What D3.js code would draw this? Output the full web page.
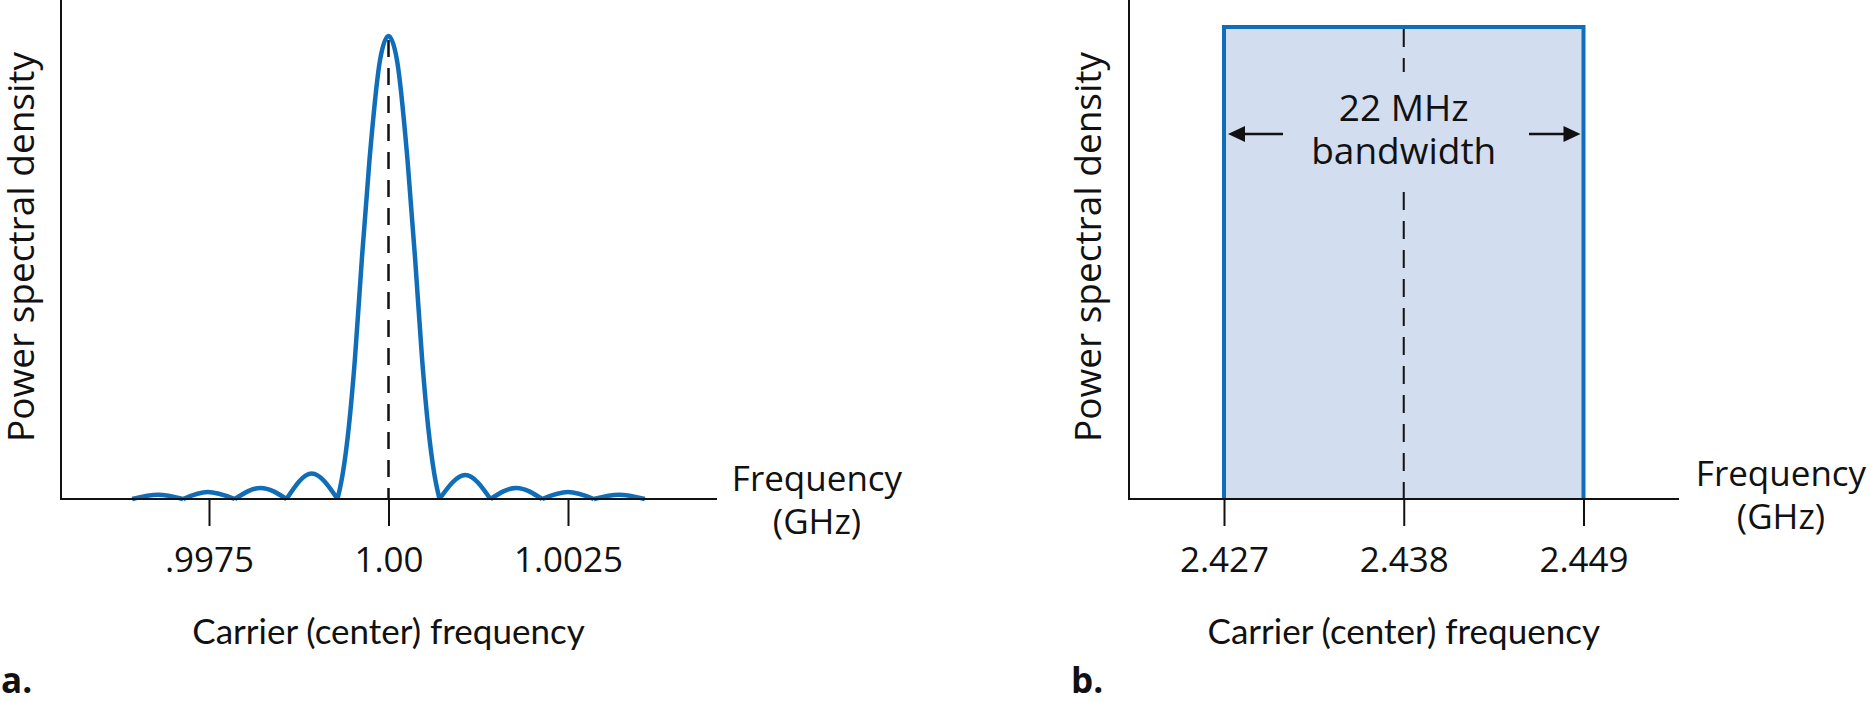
<!DOCTYPE html>
<html>
<head>
<meta charset="utf-8">
<script src="https://cdn.jsdelivr.net/npm/d3@7"></script>
<style>
  body { margin: 0; background: #fff; }
  svg text { font-family: "Open Sans", "Noto Sans", sans-serif; fill: #111; }
</style>
</head>
<body>
<script>
// Panel a: power spectral density around the carrier (relative, peak = 1)
const psdFreq = [0.99643, 0.99679, 0.99714, 0.99748, 0.99786, 0.99822, 0.99858, 0.99893,
  0.99929, 0.999364, 0.999447, 0.999531, 0.999628, 0.999735, 0.999882, 1.0,
  1.000118, 1.000265, 1.000372, 1.000469, 1.000553, 1.000636, 1.00071,
  1.00107, 1.00142, 1.00178, 1.00214, 1.0025, 1.00286, 1.00321, 1.00357];
const psdValue = [0, 0.009, 0, 0.015, 0, 0.024, 0, 0.055,
  0, 0.056, 0.155, 0.30, 0.516, 0.732, 0.948, 1,
  0.948, 0.732, 0.516, 0.30, 0.155, 0.056, 0,
  0.052, 0, 0.024, 0, 0.015, 0, 0.009, 0];
const ticksA = [0.9975, 1.0, 1.0025];
const tickLabelsA = [".9975", "1.00", "1.0025"];
const carrierA = 1.0;

// Panel b: flat 22 MHz channel
const bandEdges = [2.427, 2.449];
const bandLevel = 1;
const ticksB = [2.427, 2.438, 2.449];
const tickLabelsB = ["2.427", "2.438", "2.449"];
const carrierB = 2.438;
const bandText = ["22 MHz", "bandwidth"];

const xTitle = "Carrier (center) frequency";
const yTitle = "Power spectral density";
const freqUnit = ["Frequency", "(GHz)"];

const width = 1869, height = 702;
const axisY = 499, tickLen = 27;
const blue = "#106eb9", fillBlue = "#d2ddf0";

const svg = d3.select("body").append("svg")
  .attr("width", width)
  .attr("height", height);

// scales
const xA = d3.scaleLinear().domain([0.9975, 1.0025]).range([209, 568]);
const yA = d3.scaleLinear().domain([0, 1]).range([axisY, 36]);
const xB = d3.scaleLinear().domain([2.427, 2.449]).range([1224, 1583.5]);
const yB = d3.scaleLinear().domain([0, 1]).range([axisY, 27]);

// two-line label as one text element
function twoLines(sel, lines, x, y, gap) {
  const t = sel.append("text")
    .attr("x", x).attr("y", y)
    .attr("text-anchor", "middle");
  lines.forEach((s, i) => {
    t.append("tspan").attr("x", x).attr("y", y + i * gap).text(s);
  });
  return t;
}

// ---------- panel a ----------
const gA = svg.append("g");

// dashed carrier line
gA.append("line")
  .attr("x1", xA(carrierA)).attr("x2", xA(carrierA))
  .attr("y1", yA(1) + 4).attr("y2", axisY)
  .attr("stroke", "#111").attr("stroke-width", 2.5)
  .attr("stroke-dasharray", "17,11");

// split the spectrum into lobes at the nulls so the nulls stay pointed
const pts = psdFreq.map((f, i) => [f, psdValue[i]]);
const lobes = [];
let cur = [pts[0]];
for (let i = 1; i < pts.length; i++) {
  cur.push(pts[i]);
  if (pts[i][1] === 0) { lobes.push(cur); cur = [pts[i]]; }
}
const lobeLine = d3.line()
  .x(d => xA(d[0]))
  .y(d => yA(d[1]))
  .curve(d3.curveMonotoneX);

gA.append("path")
  .attr("d", lobes.map(l => lobeLine(l)).join(""))
  .attr("fill", "none")
  .attr("stroke", blue)
  .attr("stroke-width", 4.5)
  .attr("stroke-linejoin", "round");

// axes
gA.append("line").attr("x1", 61).attr("x2", 61).attr("y1", 0).attr("y2", axisY + 1)
  .attr("stroke", "#111").attr("stroke-width", 2);
gA.append("line").attr("x1", 60).attr("x2", 717).attr("y1", axisY).attr("y2", axisY)
  .attr("stroke", "#111").attr("stroke-width", 2);

const axA = gA.append("g")
  .attr("transform", `translate(0,${axisY})`)
  .call(d3.axisBottom(xA).tickValues(ticksA)
    .tickFormat((d, i) => tickLabelsA[i]).tickSize(tickLen).tickSizeOuter(0));

// ---------- panel b ----------
const gB = svg.append("g");

const bandPts = [[bandEdges[0], 0], [bandEdges[0], bandLevel], [bandEdges[1], bandLevel], [bandEdges[1], 0]];
const bandLine = d3.line().x(d => xB(d[0])).y(d => yB(d[1]));

gB.append("path")
  .attr("d", bandLine(bandPts) + "Z")
  .attr("fill", fillBlue)
  .attr("stroke", "none");

// dashed carrier line, broken around the label
[[yB(bandLevel) + 2, 72], [192, axisY]].forEach(seg => {
  gB.append("line")
    .attr("x1", xB(carrierB)).attr("x2", xB(carrierB))
    .attr("y1", seg[0]).attr("y2", seg[1])
    .attr("stroke", "#111").attr("stroke-width", 2)
    .attr("stroke-dasharray", "18,11");
});

gB.append("path")
  .attr("d", bandLine(bandPts))
  .attr("fill", "none")
  .attr("stroke", blue)
  .attr("stroke-width", 4);

twoLines(gB, bandText, xB(carrierB), 121, 43)
  .style("font-size", "37px");

// width arrows
const arrowY = 134;
function arrow(xTail, xTip) {
  const dir = Math.sign(xTip - xTail);
  gB.append("line")
    .attr("x1", xTail).attr("x2", xTip - dir * 10)
    .attr("y1", arrowY).attr("y2", arrowY)
    .attr("stroke", "#111").attr("stroke-width", 2.5);
  gB.append("path")
    .attr("d", `M${xTip},${arrowY}L${xTip - dir * 17},${arrowY - 8}L${xTip - dir * 17},${arrowY + 8}Z`)
    .attr("fill", "#111");
}
arrow(1283, xB(bandEdges[0]) + 4);
arrow(1529, xB(bandEdges[1]) - 3);

gB.append("line").attr("x1", 1129).attr("x2", 1129).attr("y1", 0).attr("y2", axisY + 1)
  .attr("stroke", "#111").attr("stroke-width", 2);
gB.append("line").attr("x1", 1128).attr("x2", 1679).attr("y1", axisY).attr("y2", axisY)
  .attr("stroke", "#111").attr("stroke-width", 2);

const axB = gB.append("g")
  .attr("transform", `translate(0,${axisY})`)
  .call(d3.axisBottom(xB).tickValues(ticksB)
    .tickFormat((d, i) => tickLabelsB[i]).tickSize(tickLen).tickSizeOuter(0));

// shared axis styling
[axA, axB].forEach(ax => {
  ax.select(".domain").remove();
  ax.selectAll(".tick line").attr("stroke", "#111").attr("stroke-width", 2);
  ax.selectAll(".tick text")
    .attr("y", 73).attr("dy", null)
    .attr("fill", "#111")
    .style("font-family", '"Open Sans", "Noto Sans", sans-serif')
    .style("font-size", "35px");
});

// ---------- titles ----------
const titles = [
  { cx: xA(carrierA), ylab: 34, fx: 817, fy: 491, tag: "a.", tx: 1 },
  { cx: xB(carrierB), ylab: 1101, fx: 1781, fy: 486, tag: "b.", tx: 1071 }
];
titles.forEach(t => {
  svg.append("text")
    .attr("x", t.cx).attr("y", 644)
    .attr("text-anchor", "middle")
    .style("font-family", 'Lato, "Open Sans", sans-serif')
    .style("font-size", "35px")
    .text(xTitle);
  svg.append("text")
    .attr("transform", `translate(${t.ylab},247) rotate(-90)`)
    .attr("text-anchor", "middle")
    .style("font-size", "37px")
    .text(yTitle);
  twoLines(svg, freqUnit, t.fx, t.fy, 43)
    .style("font-size", "35px");
  svg.append("text")
    .attr("x", t.tx).attr("y", 693)
    .style("font-size", "35px")
    .style("font-weight", "bold")
    .text(t.tag);
});
</script>
</body>
</html>
